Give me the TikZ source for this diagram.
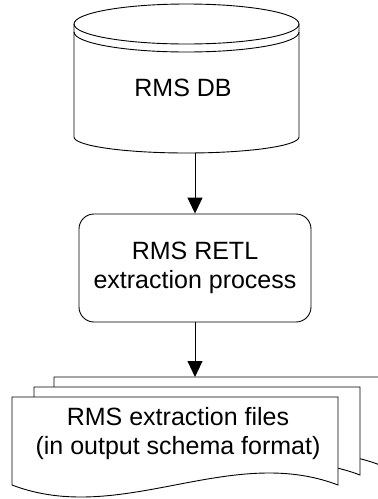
\documentclass[tikz,border=0pt]{standalone}
\usepackage{fontspec}
\setmainfont{Liberation Sans}
\usetikzlibrary{arrows.meta}

\tikzset{
    flow/.style={line width=0.9pt, -{Triangle[length=16pt, width=15pt]}},
    boxtext/.style={font=\fontsize{25}{29}\selectfont, align=center},
}

\begin{document}
\begin{tikzpicture}[x=1pt, y=-1pt, line width=0.9pt]
    \useasboundingbox (0,0) rectangle (378,499);

    % database
    \draw (74,24) -- (74,137) arc[start angle=180, end angle=0, x radius=112.5, y radius=16] -- (299,24);
    \draw (186.5,24) ellipse[x radius=112.5, y radius=20];
    \draw (74,32) arc[start angle=180, end angle=0, x radius=112.5, y radius=20];
    \node[boxtext] (db) at (183,88) {RMS DB};
    \coordinate (dbbot) at (186.5,153);

    % process
    \node[draw, rounded corners=15pt, minimum width=232pt, minimum height=108pt, boxtext] (proc) at (195,268) {RMS RETL\\extraction process};

    % output files
    \begin{scope}[shift={(54,377)}]
    \draw[fill=white] (0,0) -- (326,0) -- (326,88) .. controls (217.3,46.4) and (108.7,129.6) .. (0,88) -- cycle;
    \end{scope}
    \begin{scope}[shift={(34,387)}]
    \draw[fill=white] (0,0) -- (326,0) -- (326,88) .. controls (217.3,46.4) and (108.7,129.6) .. (0,88) -- cycle;
    \end{scope}
    \begin{scope}[shift={(12,397)}]
    \draw[fill=white] (0,0) -- (326,0) -- (326,88) .. controls (217.3,46.4) and (108.7,129.6) .. (0,88) -- cycle;
    \end{scope}
    \node[boxtext] (files) at (178,434) {RMS extraction files\\(in output schema format)};
    \coordinate (filestop) at (193,377);

    \draw[flow] (dbbot -| proc.north) -- (proc.north);
    \draw[flow] (proc.south) -- (proc.south |- filestop);
\end{tikzpicture}
\end{document}
